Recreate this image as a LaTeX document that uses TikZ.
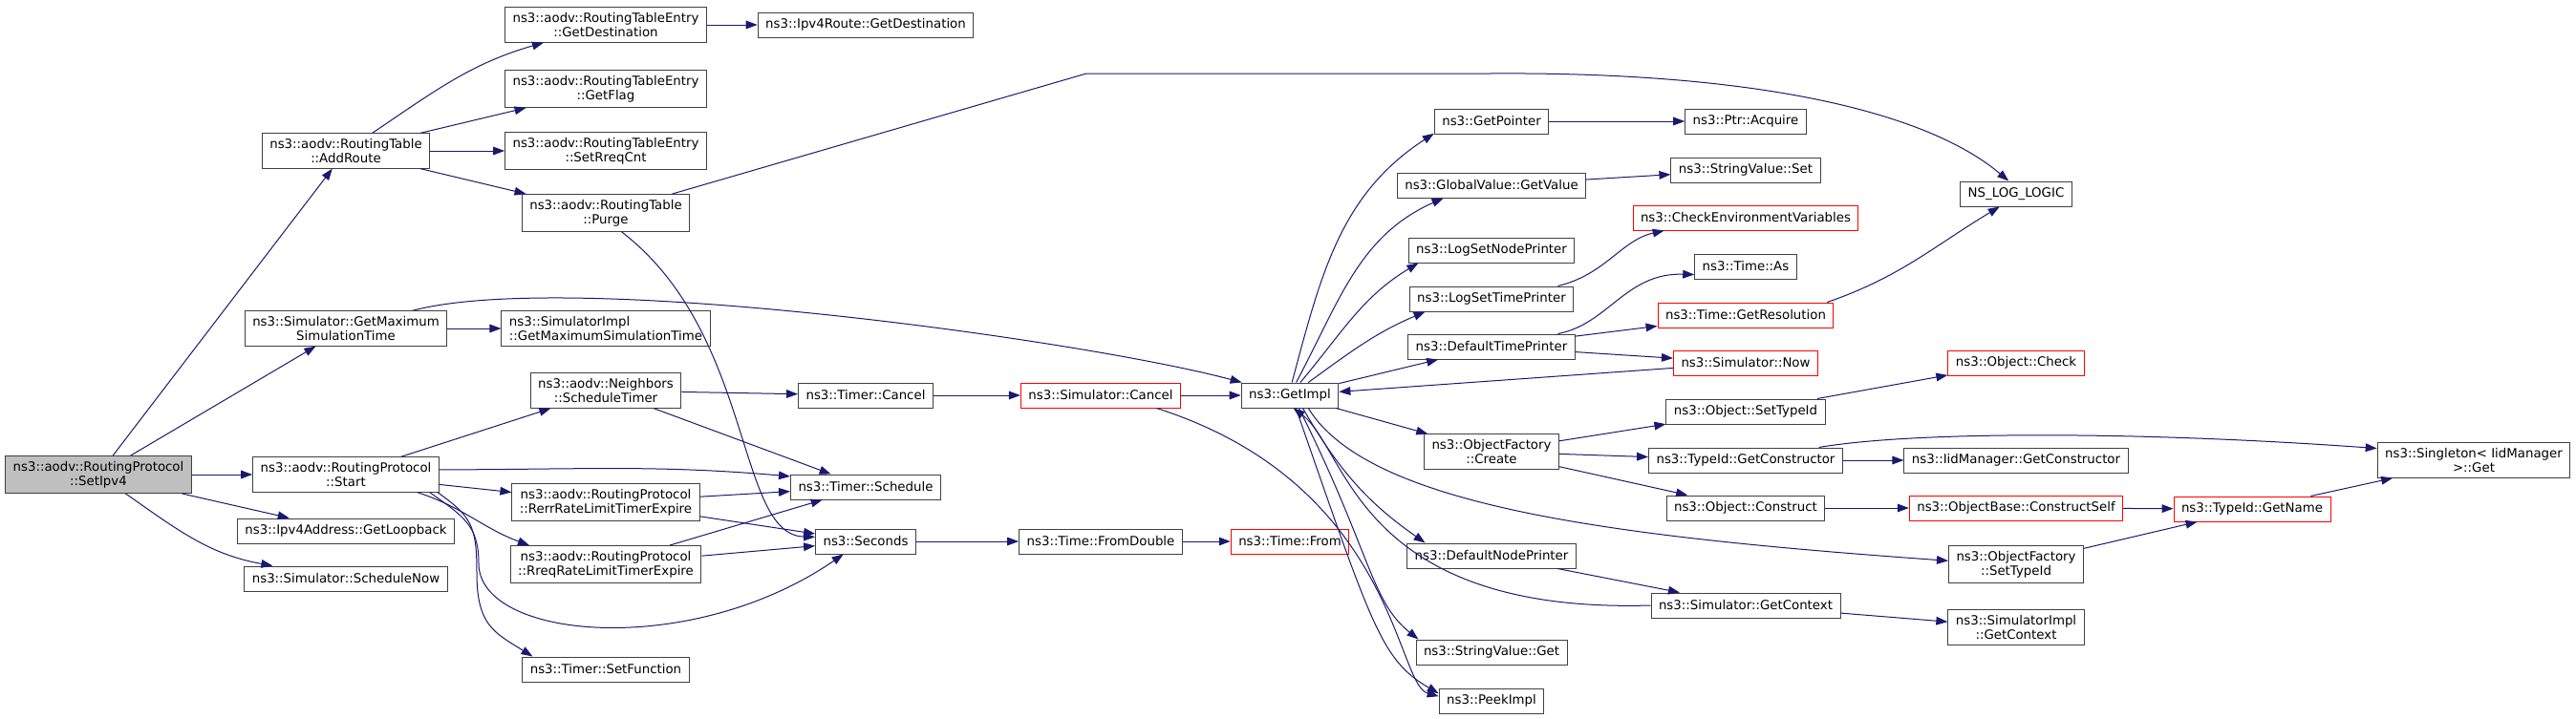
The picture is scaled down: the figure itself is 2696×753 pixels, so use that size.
\documentclass[tikz,border=0pt]{standalone}
\usepackage{fontspec}
\setmainfont{DejaVu Sans}
\definecolor{DoxyEdge}{HTML}{191970}
\definecolor{DoxyBorder}{HTML}{404040}
\definecolor{DoxyRed}{HTML}{FF0000}
\definecolor{DoxyRoot}{HTML}{BFBFBF}
\usepackage{tikz}
\usetikzlibrary{arrows.meta}

\begin{document}
\begin{tikzpicture}[x=0.75pt, y=0.75pt,
    fn/.style={draw=DoxyBorder, fill=white, line width=0.75pt, align=center,
      font=\fontsize{10}{11.5}\selectfont, inner xsep=6pt, inner ysep=4pt, minimum height=19.5pt},
    fnred/.style={fn, draw=DoxyRed},
    fnroot/.style={fn, fill=DoxyRoot},
    call/.style={draw=DoxyEdge, line width=0.75pt, -{Triangle[length=9pt,width=6.5pt]}}]
    % Canvas
    \fill[white] (0,0) rectangle (2696,-753);

    % Root function
    \node[fnroot] (setipv) at (103,-497) {ns3::aodv::RoutingProtocol\\::SetIpv4};

    % Direct callees
    \node[fn] (addroute) at (362,-158) {ns3::aodv::RoutingTable\\::AddRoute};
    \node[fn] (getmaxsim) at (362,-344) {ns3::Simulator::GetMaximum\\SimulationTime};
    \node[fn] (start) at (362,-497) {ns3::aodv::RoutingProtocol\\::Start};
    \node[fn] (loopback) at (362,-556) {ns3::Ipv4Address::GetLoopback};
    \node[fn] (schednow) at (362,-606) {ns3::Simulator::ScheduleNow};

    % Second column
    \node[fn] (rtedest) at (634,-26) {ns3::aodv::RoutingTableEntry\\::GetDestination};
    \node[fn] (rteflag) at (634,-93) {ns3::aodv::RoutingTableEntry\\::GetFlag};
    \node[fn] (rtereq) at (634,-158) {ns3::aodv::RoutingTableEntry\\::SetRreqCnt};
    \node[fn] (purge) at (634,-223) {ns3::aodv::RoutingTable\\::Purge};
    \node[fn, align=left] (implmaxsim) at (634,-344) {ns3::SimulatorImpl\\::GetMaximumSimulationTime};
    \node[fn] (neighbors) at (634,-409) {ns3::aodv::Neighbors\\::ScheduleTimer};
    \node[fn] (rerr) at (634,-526) {ns3::aodv::RoutingProtocol\\::RerrRateLimitTimerExpire};
    \node[fn] (rreq) at (634,-591) {ns3::aodv::RoutingProtocol\\::RreqRateLimitTimerExpire};
    \node[fn] (setfunc) at (634,-701) {ns3::Timer::SetFunction};

    % Timers and time
    \node[fn] (routedest) at (906,-26) {ns3::Ipv4Route::GetDestination};
    \node[fn] (tcancel) at (906,-414) {ns3::Timer::Cancel};
    \node[fn] (tsched) at (906,-510) {ns3::Timer::Schedule};
    \node[fn] (seconds) at (906,-567) {ns3::Seconds};
    \node[fnred] (scancel) at (1152,-414) {ns3::Simulator::Cancel};
    \node[fn] (fromdouble) at (1152,-567) {ns3::Time::FromDouble};
    \node[fn] (getimpl) at (1350,-414) {ns3::GetImpl};
    \node[fnred] (timefrom) at (1350,-567) {ns3::Time::From};

    % Callees of GetImpl
    \node[fn] (getptr) at (1561,-127) {ns3::GetPointer};
    \node[fn] (getvalue) at (1561,-194) {ns3::GlobalValue::GetValue};
    \node[fn] (nodeprinter) at (1561,-262) {ns3::LogSetNodePrinter};
    \node[fn] (timeprinter) at (1561,-313) {ns3::LogSetTimePrinter};
    \node[fn] (deftime) at (1561,-363) {ns3::DefaultTimePrinter};
    \node[fn] (ofcreate) at (1561,-473) {ns3::ObjectFactory\\::Create};
    \node[fn] (defnode) at (1561,-582) {ns3::DefaultNodePrinter};
    \node[fn] (svget) at (1561,-683) {ns3::StringValue::Get};
    \node[fn] (peekimpl) at (1561,-734) {ns3::PeekImpl};

    % Next column
    \node[fn] (acquire) at (1827,-127) {ns3::Ptr::Acquire};
    \node[fn] (svset) at (1827,-178) {ns3::StringValue::Set};
    \node[fnred] (checkenv) at (1827,-228) {ns3::CheckEnvironmentVariables};
    \node[fn] (timeas) at (1827,-279) {ns3::Time::As};
    \node[fnred] (getres) at (1827,-330) {ns3::Time::GetResolution};
    \node[fnred] (simnow) at (1827,-380) {ns3::Simulator::Now};
    \node[fn] (objsettype) at (1827,-431) {ns3::Object::SetTypeId};
    \node[fn] (getctor) at (1827,-482) {ns3::TypeId::GetConstructor};
    \node[fn] (objconstruct) at (1827,-532) {ns3::Object::Construct};
    \node[fn] (getctx) at (1827,-634) {ns3::Simulator::GetContext};

    % Right end
    \node[fn] (nslog) at (2110,-203) {NS\_LOG\_LOGIC};
    \node[fnred] (objcheck) at (2110,-380) {ns3::Object::Check};
    \node[fn] (iidctor) at (2110,-482) {ns3::IidManager::GetConstructor};
    \node[fnred] (ctorself) at (2110,-532) {ns3::ObjectBase::ConstructSelf};
    \node[fn] (ofsettype) at (2110,-591) {ns3::ObjectFactory\\::SetTypeId};
    \node[fn] (implctx) at (2110,-657) {ns3::SimulatorImpl\\::GetContext};
    \node[fnred] (getname) at (2357,-533) {ns3::TypeId::GetName};
    \node[fn] (singleton) at (2589,-482) {ns3::Singleton< IidManager\\>::Get};

    % Calls from SetIpv4
    \draw[call] (setipv) -- (addroute);
    \draw[call] (setipv) -- (getmaxsim);
    \draw[call] (setipv) -- (start);
    \draw[call] (setipv) -- (loopback);
    \draw[call] (setipv) to[out=-35,in=170] (schednow);

    % Routing table
    \draw[call] (addroute) to[out=34,in=196] (rtedest);
    \draw[call] (addroute) -- (rteflag);
    \draw[call] (addroute) -- (rtereq);
    \draw[call] (addroute) -- (purge);
    \draw[call] (rtedest) -- (routedest);
    \draw[call] (purge.16) -- (1137,-77) -- (1560,-77) .. controls (1850,-75) and (2020,-120) .. (nslog.120);
    \draw[call] (purge.-50) .. controls +(139,-107) and +(-83,2) .. (seconds.175);
    \draw[call] (getmaxsim) -- (implmaxsim);
    \draw[call] (getmaxsim) to[out=15,in=165,looseness=0.5] (getimpl);

    % Start and timers
    \draw[call] (start) -- (neighbors);
    \draw[call] (start.3) to[out=0,in=175] (tsched.172);
    \draw[call] (start) -- (rerr);
    \draw[call] (start.-14) to[out=-18,in=160] (rreq.166);
    \draw[call] (start.-12) .. controls +(35,-25) and +(0,40) .. (501,-590)
      .. controls +(0,-80) and +(-160,-110) .. (seconds.-150);
    \draw[call] (start.-11) .. controls +(35,-25) and +(0,50) .. (499,-600)
      .. controls +(0,-55) and +(-40,25) .. (setfunc.170);
    \draw[call] (neighbors) -- (tcancel);
    \draw[call] (neighbors) -- (tsched);
    \draw[call] (rerr) -- (tsched);
    \draw[call] (rerr) -- (seconds);
    \draw[call] (rreq) -- (tsched);
    \draw[call] (rreq) -- (seconds);
    \draw[call] (tcancel) -- (scancel);
    \draw[call] (seconds) -- (fromdouble);
    \draw[call] (fromdouble) -- (timefrom);
    \draw[call] (scancel) -- (getimpl);
    \draw[call] (scancel.-13) .. controls +(250,-80) and +(-45,12) .. (peekimpl.175);

    % Fan out of GetImpl
    \draw[call] (getimpl.81) to[out=75,in=-147] (getptr.-168);
    \draw[call] (getimpl.64) to[out=62,in=-156] (getvalue.-165);
    \draw[call] (getimpl.51) to[out=50,in=-149] (nodeprinter.-170);
    \draw[call] (getimpl.35) to[out=36,in=-157] (timeprinter.-169);
    \draw[call] (getimpl) -- (deftime);
    \draw[call] (getimpl) -- (ofcreate);
    \draw[call] (getimpl.-35) .. controls +(63,-103) and +(-350,25) .. (ofsettype.177);
    \draw[call] (getimpl.-45) to[out=-60,in=145] (defnode.169);
    \draw[call] (getimpl.-55) .. controls +(75,-150) and +(-50,40) .. (svget.170);
    \draw[call] (getimpl.-65) .. controls +(80,-230) and +(-60,35) .. (peekimpl.172);
    \draw[call] (simnow) -- (getimpl);
    \draw[call] (getctx.west) .. controls +(-308,-9) and +(57,-43) .. (getimpl.-75);

    % Printers and values
    \draw[call] (getptr) -- (acquire);
    \draw[call] (getvalue) -- (svset);
    \draw[call] (timeprinter.11) .. controls +(50,12) and +(-45,-10) .. (checkenv.-171);
    \draw[call] (deftime.11) .. controls +(53,10) and +(-72,2) .. (timeas.-171);
    \draw[call] (deftime) -- (getres);
    \draw[call] (deftime) -- (simnow);
    \draw[call] (getres.9) to[out=19,in=-149] (nslog.-142);

    % Object factory
    \draw[call] (ofcreate) -- (objsettype);
    \draw[call] (ofcreate) -- (getctor);
    \draw[call] (ofcreate) -- (objconstruct);
    \draw[call] (objsettype) -- (objcheck);
    \draw[call] (getctor) -- (iidctor);
    \draw[call] (getctor.10) .. controls +(100,17) and +(-250,18) .. (singleton.173);
    \draw[call] (objconstruct) -- (ctorself);
    \draw[call] (ctorself) -- (getname);
    \draw[call] (ofsettype) -- (getname);
    \draw[call] (getname) -- (singleton);

    % Context
    \draw[call] (defnode) -- (getctx);
    \draw[call] (getctx) -- (implctx);
\end{tikzpicture}
\end{document}
